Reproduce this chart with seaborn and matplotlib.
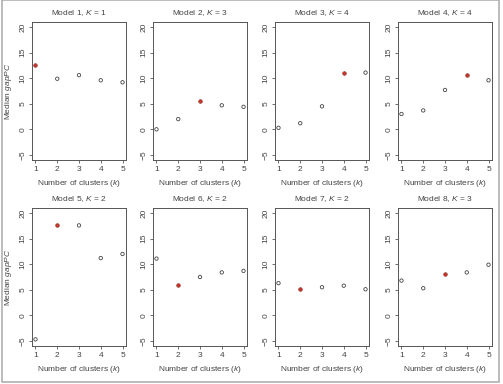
import pandas as pd
import matplotlib.pyplot as plt
import seaborn as sns
from matplotlib.patches import Rectangle

# number of clusters k
k_values = [1, 2, 3, 4, 5]

# chosen K per model (highlighted in red)
model_names = ['Model 1', 'Model 2', 'Model 3', 'Model 4',
               'Model 5', 'Model 6', 'Model 7', 'Model 8']
model_K = [1, 3, 4, 4, 2, 2, 2, 3]

# median gapPC
gap_m1 = [12.6, 9.9, 10.6, 9.6, 9.2]
gap_m2 = [0.0, 2.0, 5.6, 4.7, 4.4]
gap_m3 = [0.3, 1.2, 4.5, 11.1, 11.1]
gap_m4 = [3.0, 3.7, 7.7, 10.7, 9.6]
gap_m5 = [-4.7, 17.7, 17.6, 11.2, 12.0]
gap_m6 = [11.1, 6.0, 7.5, 8.4, 8.7]
gap_m7 = [6.3, 5.1, 5.5, 5.8, 5.1]
gap_m8 = [6.8, 5.3, 8.0, 8.4, 9.9]
gap_all = [gap_m1, gap_m2, gap_m3, gap_m4, gap_m5, gap_m6, gap_m7, gap_m8]

y_ticks = [-5, 0, 5, 10, 15, 20]

rows = []
for name, K, gaps in zip(model_names, model_K, gap_all):
    for k, g in zip(k_values, gaps):
        rows.append({'model': name, 'k': k, 'gap': g, 'chosen': k == K})
df = pd.DataFrame(rows)

sns.set_style('ticks')
plt.rcParams['font.family'] = ['Liberation Sans', 'DejaVu Sans']
plt.rcParams['mathtext.fontset'] = 'custom'
plt.rcParams['mathtext.it'] = 'Liberation Sans:italic'
plt.rcParams['mathtext.rm'] = 'Liberation Sans'

fig = plt.figure(figsize=(5.03, 3.84), dpi=100)
W, H = 503, 384
lefts = [32, 153, 275, 398]
tops = [22, 208]
pw, ph = 94, 138

box_col = '#555555'
txt_col = '#444444'

for i, (name, K) in enumerate(zip(model_names, model_K)):
    r, c = divmod(i, 4)
    ax = fig.add_axes([lefts[c] / W, 1 - (tops[r] + ph) / H, pw / W, ph / H])
    sub = df[df['model'] == name]
    sns.scatterplot(data=sub[~sub['chosen']], x='k', y='gap', ax=ax,
                    marker='o', s=6, facecolor='none', edgecolor='#444444',
                    linewidth=0.6, legend=False)
    sns.scatterplot(data=sub[sub['chosen']], x='k', y='gap', ax=ax,
                    marker='o', s=7, color='#c8352b', edgecolor='#8a2a22',
                    linewidth=0.4, legend=False)
    ax.set_xlim(0.84, 5.16)
    ax.set_ylim(-6, 21)
    ax.set_xticks(k_values)
    ax.set_yticks(y_ticks)
    ax.tick_params(labelsize=6, length=2.5, width=0.6, color=box_col,
                   labelcolor=txt_col, pad=1.5)
    for lab in ax.get_yticklabels():
        lab.set_rotation(90)
        lab.set_va('center')
    for sp in ax.spines.values():
        sp.set_visible(True)
        sp.set_color(box_col)
        sp.set_linewidth(0.7)
    ax.set_title(f'{name}, $K$ = {K}', fontsize=6, color=txt_col, pad=5)
    ax.set_xlabel('Number of clusters ($k$)', fontsize=6, color=txt_col, labelpad=4)
    if c == 0:
        ax.set_ylabel('Median $gapPC$', fontsize=6, color=txt_col, labelpad=4)
    else:
        ax.set_ylabel('')

# light grey frame around the figure
fig.patches.append(Rectangle((1.5 / W, 2.5 / H), 497.5 / W, 382 / H,
                             transform=fig.transFigure, fill=False,
                             edgecolor='#b0b0b0', linewidth=1.2))

fig.savefig('out.png', dpi=100)
